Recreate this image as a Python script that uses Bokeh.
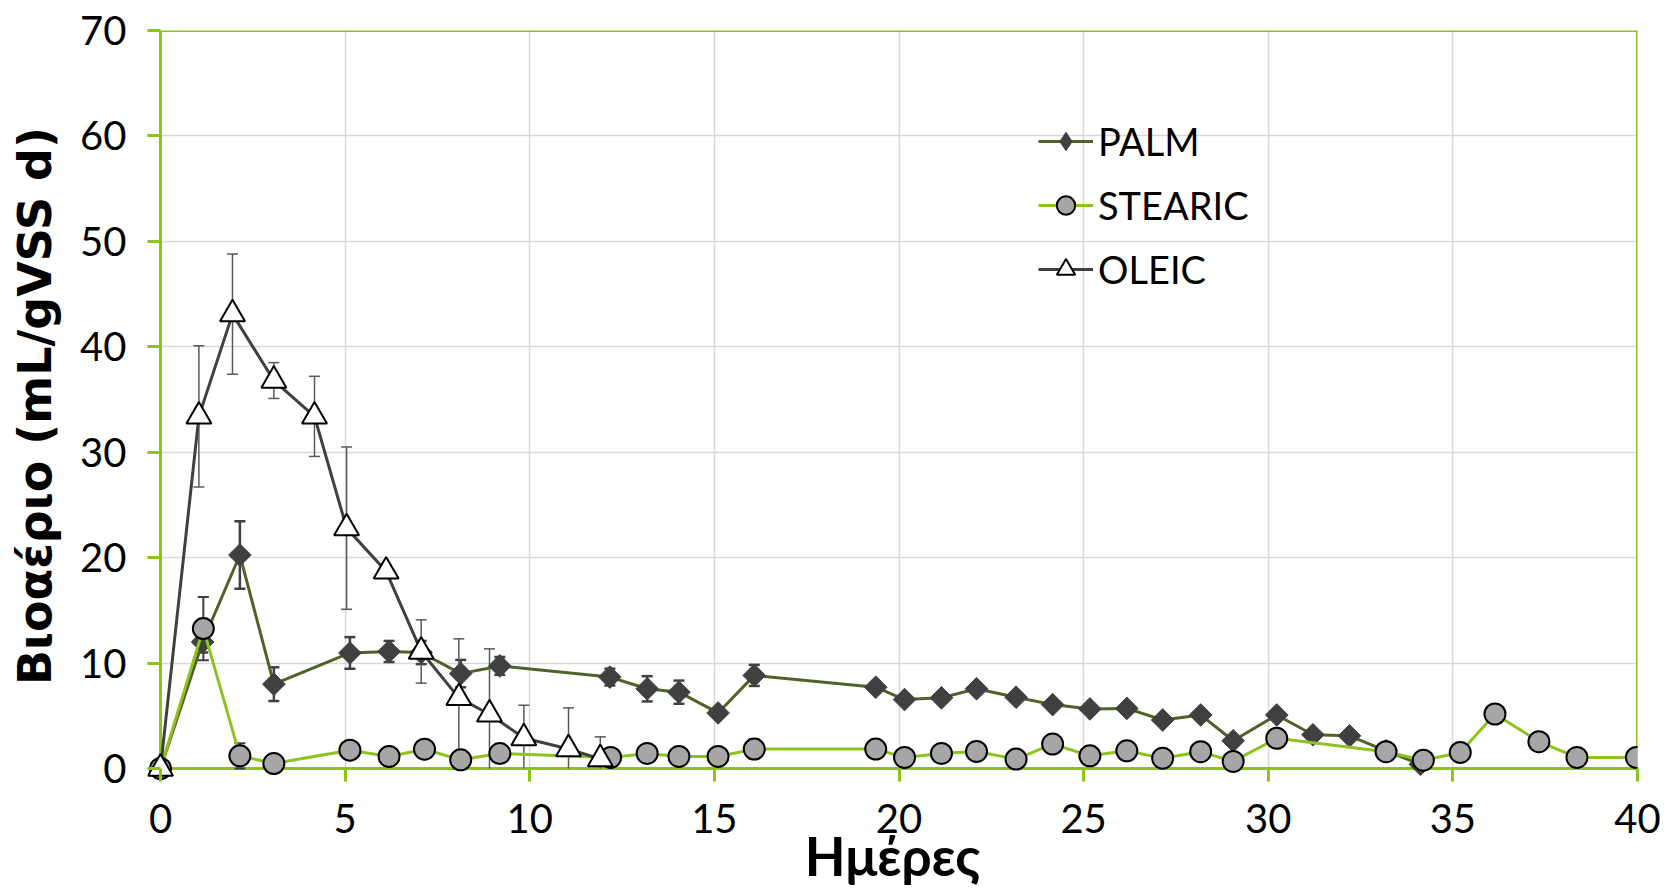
import math
from bokeh.plotting import figure
from bokeh.models import (ColumnDataSource, Whisker, TeeHead, Legend, LegendItem,
                          FixedTicker, Range1d, Span)
from bokeh.embed import file_html
from bokeh.resources import INLINE

# ---------------- data ----------------
x_ticks = [0, 5, 10, 15, 20, 25, 30, 35, 40]
y_ticks = [0, 10, 20, 30, 40, 50, 60, 70]

palm_days = [0, 1.14, 2.15, 3.07, 5.13, 6.19, 7.06, 8.13, 9.19, 12.17, 13.18, 14.04,
             15.1, 16.08, 19.37, 20.15, 21.15, 22.1, 23.17, 24.16, 25.17, 26.17,
             27.14, 28.17, 29.05, 30.23, 31.21, 32.2, 33.19, 34.12]
palm_biogas = [0, 12.0, 20.25, 8.0, 10.96, 11.1, 11.0, 9.0, 9.73, 8.67, 7.56, 7.24,
               5.27, 8.83, 7.71, 6.54, 6.7, 7.56, 6.76, 6.06, 5.65, 5.7,
               4.6, 5.08, 2.63, 5.08, 3.2, 3.1, 1.68, 0.4]
palm_err = [0, 1.0, 3.2, 1.6, 1.5, 1.0, 1.1, 1.3, 0.85, 0.8, 1.2, 1.1,
            0, 1.0, 0, 0, 0, 0, 0, 0, 0, 0,
            0, 0, 0, 0, 0, 0, 0, 0]

stearic_days = [0, 1.16, 2.15, 3.07, 5.13, 6.19, 7.15, 8.13, 9.19, 12.19, 13.18, 14.04,
                15.1, 16.08, 19.37, 20.15, 21.15, 22.1, 23.17, 24.16, 25.17, 26.17,
                27.14, 28.17, 29.05, 30.23, 33.19, 34.2, 35.2, 36.14, 37.33, 38.36, 39.97]
stearic_biogas = [0, 13.27, 1.2, 0.47, 1.74, 1.14, 1.83, 0.82, 1.42, 1.05, 1.43, 1.14,
                  1.14, 1.84, 1.84, 1.05, 1.43, 1.62, 0.89, 2.32, 1.2, 1.68,
                  0.98, 1.59, 0.67, 2.86, 1.59, 0.79, 1.52, 5.17, 2.54, 1.05, 1.05]
stearic_err = [0, 3.0, 1.2, 0, 0.5, 0.9, 0, 0, 0.5, 0, 0, 0,
               0, 0.9, 0, 0, 0, 0, 0, 0, 0, 0,
               0, 0, 0, 0, 0, 0, 0, 0, 0, 0, 0]

oleic_days = [0, 1.04, 1.95, 3.07, 4.17, 5.04, 6.11, 7.06, 8.08, 8.91, 9.84, 11.05, 11.91]
oleic_biogas = [0, 33.4, 43.1, 36.8, 33.4, 22.8, 18.7, 11.1, 6.7, 5.15, 2.9, 1.85, 0.9]
oleic_err = [0, 6.7, 5.7, 1.7, 3.8, 7.7, 0, 3.0, 5.6, 6.2, 3.1, 3.9, 2.1]

x_title = "Ημέρες"
y_title = "Βιοαέριο (mL/gVSS d)"

# ---------------- style / layout ----------------
GREEN = "#8DC21F"
PALM_LINE = "#4F6228"
DARK = "#404040"
GRID = "#D9D9D9"
FONT = "Lato"

W, H = 1667, 890
LEFT, RIGHT, TOP, BOTTOM = 147, 30, 30, 109
PAD = 13  # frame kept left of / below the zero lines, so markers at 0 are not cut
fw = W - LEFT - RIGHT
fh = H - TOP - BOTTOM
x_pad = PAD * 40 / (fw - PAD)
y_pad = PAD * 70 / (fh - PAD)

p = figure(width=W, height=H, x_range=Range1d(-x_pad, 40), y_range=Range1d(-y_pad, 70),
           output_backend="svg", toolbar_location=None,
           min_border_left=LEFT, min_border_right=RIGHT, min_border_top=TOP,
           min_border_bottom=BOTTOM)

p.background_fill_color = "white"
p.border_fill_color = "white"
p.outline_line_color = None

for ax in (p.xaxis[0], p.yaxis[0]):
    ax.axis_line_color = None
    ax.major_tick_line_color = GREEN
    ax.major_tick_line_width = 3
    ax.major_tick_in = PAD
    ax.major_tick_out = 0
    ax.minor_tick_line_color = None
    ax.major_label_text_font = FONT
    ax.major_label_text_font_size = "40px"
    ax.major_label_text_color = "black"
    ax.axis_label_text_font_style = "bold"
    ax.axis_label_text_color = "black"

p.xaxis.ticker = FixedTicker(ticks=x_ticks)
p.yaxis.ticker = FixedTicker(ticks=y_ticks)
p.xaxis.major_label_standoff = 22
p.yaxis.major_label_standoff = 21

p.xaxis.axis_label = x_title
p.xaxis.axis_label_text_font = FONT
p.xaxis.axis_label_text_font_size = "53px"
p.xaxis.axis_label_standoff = -12

p.yaxis.axis_label = y_title
p.yaxis.axis_label_text_font = "DejaVu Sans"
p.yaxis.axis_label_text_font_size = "46px"
p.yaxis.axis_label_standoff = 15

p.xgrid.ticker = FixedTicker(ticks=x_ticks)
p.ygrid.ticker = FixedTicker(ticks=y_ticks)
for g in (p.xgrid[0], p.ygrid[0]):
    g.grid_line_color = GRID
    g.grid_line_width = 1.5

# axis lines at zero and the top / right plot-area border
for loc, dim in ((0, "width"), (0, "height"), (70, "width"), (40, "height")):
    p.add_layout(Span(location=loc, dimension=dim, line_color=GREEN, line_width=3,
                      level="underlay"))


def add_err(days, vals, errs, color, width):
    full = dict(x=[], lower=[], upper=[])
    cut = dict(x=[], lower=[], upper=[])
    for d, v, e in zip(days, vals, errs):
        if e <= 0:
            continue
        tgt = full if v - e >= -0.05 else cut
        tgt["x"].append(d)
        tgt["lower"].append(max(v - e, 0))
        tgt["upper"].append(v + e)
    for data, low_head in ((full, True), (cut, False)):
        if not data["x"]:
            continue
        w = Whisker(base="x", lower="lower", upper="upper",
                    source=ColumnDataSource(data),
                    line_color=color, line_width=width,
                    upper_head=TeeHead(size=11, line_color=color, line_width=width),
                    lower_head=(TeeHead(size=11, line_color=color, line_width=width)
                                if low_head else None))
        p.add_layout(w)


add_err(palm_days, palm_biogas, palm_err, DARK, 2.5)
add_err(stearic_days, stearic_biogas, stearic_err, DARK, 2)
add_err(oleic_days, oleic_biogas, oleic_err, "#595959", 1.5)

palm_src = ColumnDataSource(dict(x=palm_days, y=palm_biogas))
st_src = ColumnDataSource(dict(x=stearic_days, y=stearic_biogas))
ol_src = ColumnDataSource(dict(x=oleic_days, y=oleic_biogas))

r_pl = p.line("x", "y", source=palm_src, line_color=PALM_LINE, line_width=3)
# diamond marker (used by the legend), covered by the rotated square on the plot
r_pm_leg = p.scatter("x", "y", source=palm_src, marker="diamond", size=21,
                     fill_color=DARK, line_color=DARK, line_width=1)
r_pm = p.scatter("x", "y", source=palm_src, marker="square", size=16, angle=math.pi / 4,
                 fill_color=DARK, line_color=DARK, line_width=1)
r_sl = p.line("x", "y", source=st_src, line_color=GREEN, line_width=3)
r_sm = p.scatter("x", "y", source=st_src, marker="circle", size=21,
                 fill_color="#A6A6A6", line_color="black", line_width=2)
r_ol = p.line("x", "y", source=ol_src, line_color=DARK, line_width=3)
r_om = p.scatter("x", "y", source=ol_src, marker="triangle", size=25,
                 fill_color="white", line_color="black", line_width=2)

legend = Legend(items=[
    LegendItem(label="PALM", renderers=[r_pl, r_pm_leg]),
    LegendItem(label="STEARIC", renderers=[r_sl, r_sm]),
    LegendItem(label="OLEIC", renderers=[r_ol, r_om]),
], location=(891, 489))
legend.padding = 0
legend.margin = 0
legend.border_line_color = None
legend.background_fill_alpha = 0
legend.label_text_font = FONT
legend.label_text_font_size = "38px"
legend.label_text_color = "black"
legend.glyph_width = 55
legend.glyph_height = 46
legend.label_height = 46
legend.spacing = 18
legend.label_standoff = 5
p.add_layout(legend, "center")

open("out.html", "w").write(file_html(p, INLINE))
